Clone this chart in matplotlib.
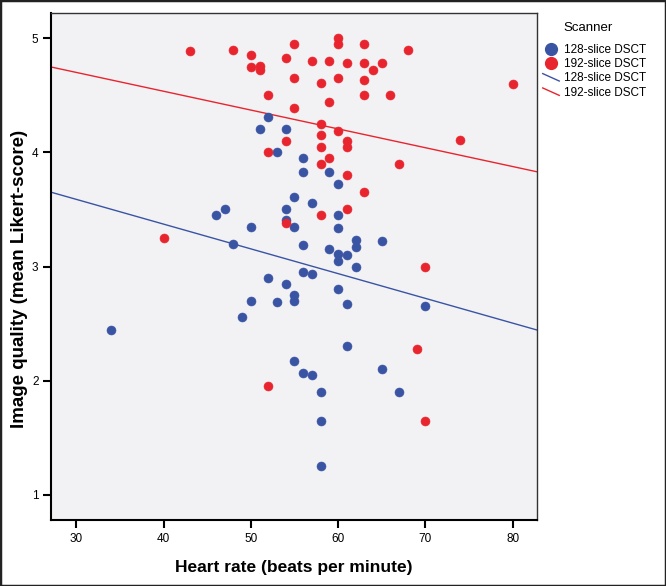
import matplotlib
matplotlib.use("Agg")
import matplotlib.pyplot as plt
from matplotlib.lines import Line2D
from matplotlib.legend_handler import HandlerBase
from matplotlib.patches import Rectangle

plt.rcParams['font.family'] = ['Liberation Sans', 'DejaVu Sans']

# ---- data ----
groups = ["128-slice DSCT", "192-slice DSCT"]
colors = ["#3a54a4", "#e8252e"]

hr_128 = [34, 46, 47, 48, 49, 50, 50, 51, 52, 52, 53, 53, 54, 54, 54, 54,
          55, 55, 55, 55, 55, 56, 56, 56, 56, 56, 57, 57, 57, 58, 58, 58,
          59, 59, 60, 60, 60, 60, 60, 60, 61, 61, 61, 62, 62, 62, 65, 65, 67, 70]
iq_128 = [2.44, 3.45, 3.50, 3.20, 2.56, 3.35, 2.70, 4.20, 4.31, 2.90, 4.00, 2.69,
          4.20, 3.50, 3.41, 2.85, 3.61, 3.35, 2.75, 2.70, 2.17, 3.95, 3.83, 3.19,
          2.95, 2.07, 3.56, 2.93, 2.05, 1.90, 1.65, 1.25, 3.83, 3.15, 3.72, 3.45,
          3.34, 3.11, 3.05, 2.80, 3.10, 2.67, 2.30, 3.23, 3.17, 3.00, 3.22, 2.10,
          1.90, 2.65]

hr_192 = [40, 43, 48, 50, 50, 51, 51, 52, 52, 52, 54, 54, 54, 55, 55, 55, 57,
          58, 58, 58, 58, 58, 58, 59, 59, 59, 60, 60, 60, 60, 61, 61, 61, 61, 61,
          63, 63, 63, 63, 63, 64, 65, 66, 67, 68, 69, 70, 70, 74, 80]
iq_192 = [3.25, 4.89, 4.90, 4.85, 4.75, 4.76, 4.72, 4.50, 4.00, 1.95, 4.83, 4.10,
          3.38, 4.95, 4.65, 4.39, 4.80, 4.61, 4.25, 4.15, 4.05, 3.90, 3.45, 4.80,
          4.44, 3.95, 5.00, 4.95, 4.65, 4.19, 4.78, 4.10, 4.05, 3.80, 3.50, 4.95,
          4.78, 4.63, 4.50, 3.65, 4.72, 4.78, 4.50, 3.90, 4.90, 2.28, 3.00, 1.65,
          4.11, 4.60]

# fit lines (y = intercept + slope * x)
fit_slope = [-0.02167, -0.01648]
fit_intercept = [4.238, 5.194]

x_ticks = [30, 40, 50, 60, 70, 80]
y_ticks = [1, 2, 3, 4, 5]
x_lim = (27.1, 82.8)
y_lim = (0.78, 5.22)

# ---- figure ----
fig = plt.figure(figsize=(6.66, 5.86), dpi=100)
ax = fig.add_axes([51/666, 1-520/586, 486/666, 507/586])
ax.set_facecolor("#f2f2f4")

xs = [hr_128, hr_192]
ys = [iq_128, iq_192]
for x, y, c in zip(xs, ys, colors):
    ax.scatter(x, y, s=42, color=c, edgecolors=c, linewidths=0.4, zorder=3)

for sl, ic, c in zip(fit_slope, fit_intercept, colors):
    lx = [x_lim[0], x_lim[1]]
    ly = [ic + sl * v for v in lx]
    ax.plot(lx, ly, color=c, lw=1.0, zorder=2)

ax.set_xlim(*x_lim)
ax.set_ylim(*y_lim)
ax.set_xticks(x_ticks)
ax.set_yticks(y_ticks)
ax.tick_params(axis='both', direction='out', length=6, width=1.5, labelsize=8.5,
               colors='black', pad=3)
for side in ['left', 'bottom']:
    ax.spines[side].set_linewidth(1.5)
for side in ['top', 'right']:
    ax.spines[side].set_linewidth(1.0)
    ax.spines[side].set_color('#333333')

ax.set_xlabel("Heart rate (beats per minute)", fontsize=12.5, fontweight='bold', labelpad=11)
ax.set_ylabel("Image quality (mean Likert-score)", fontsize=13.5, fontweight='bold')
ax.yaxis.set_label_coords(-(51 - 28) / 486, (520 - 279) / 507)


class HandlerDiag(HandlerBase):
    def create_artists(self, legend, orig_handle, xdescent, ydescent, width,
                       height, fontsize, trans):
        line = Line2D([-xdescent, -xdescent + width],
                      [-ydescent + height * 0.95, -ydescent + height * 0.05],
                      color=orig_handle.get_color(), lw=1.0, transform=trans)
        return [line]


handles = []
labels = []
for g, c in zip(groups, colors):
    handles.append(Line2D([], [], marker='o', ls='none', color=c, markersize=8.5))
    labels.append(g)
line_handles = []
for g, c in zip(groups, colors):
    h = Line2D([], [], color=c, lw=1.0)
    handles.append(h)
    labels.append(g)
    line_handles.append(h)

fig.text(563/666, 1-28/586, "Scanner", fontsize=9.5, ha='left', va='center')
leg = fig.legend(handles, labels, loc='upper left',
                 bbox_to_anchor=(538/666, 1-39/586), frameon=False,
                 fontsize=8.5, handlelength=1.4,
                 handletextpad=0.4, labelspacing=0.2, borderaxespad=0,
                 handler_map={h: HandlerDiag() for h in line_handles})

fig.patches.append(Rectangle((0, 0), 1, 1, transform=fig.transFigure,
                             fill=False, edgecolor='#222222', lw=2.5))

fig.savefig("out.png", dpi=100)
